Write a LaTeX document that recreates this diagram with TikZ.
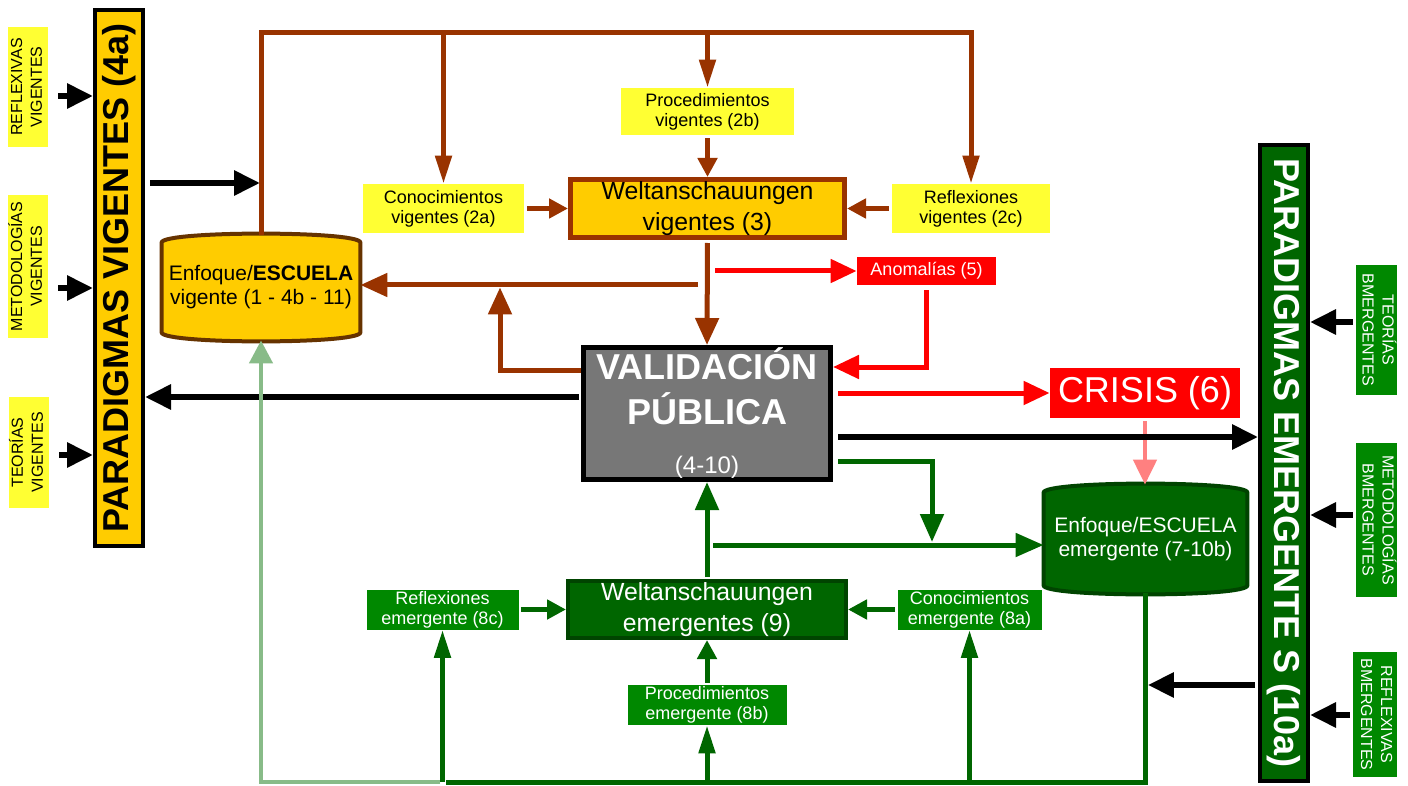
\documentclass[tikz,border=0pt]{standalone}
\usepackage{fontspec}
\setmainfont{Liberation Sans}
\usetikzlibrary{arrows.meta,positioning,calc,backgrounds}

\definecolor{gold}{HTML}{FFCC00}
\definecolor{lemon}{HTML}{FFFF33}
\definecolor{rust}{HTML}{993300}
\definecolor{bark}{HTML}{663300}
\definecolor{forest}{HTML}{006600}
\definecolor{pine}{HTML}{004400}
\definecolor{leaf}{HTML}{008800}
\definecolor{sage}{HTML}{88BB88}
\definecolor{salmon}{HTML}{FF8080}
\definecolor{slate}{HTML}{777777}

\newcommand{\sidetext}[3]{\rotatebox{#1}{\begin{tabular}{@{}c@{}}#2\\#3\end{tabular}}}
\newcommand{\cylbody}[3]{%
  \path[fill=#2, draw=#3, line width=2pt, rounded corners=2pt]
    ($(#1.north west)+(0,12)$) .. controls ($(#1.north west)+(0,-4)$) and ($(#1.north east)+(0,-4)$) .. ($(#1.north east)+(0,12)$)
    -- ($(#1.south east)+(0,-12)$) .. controls ($(#1.south east)+(0,4)$) and ($(#1.south west)+(0,4)$) .. ($(#1.south west)+(0,-12)$) -- cycle;}

\begin{document}
\begin{tikzpicture}[x=0.5pt, y=-0.5pt, node distance=132pt,
  paradbar/.style={draw=black, line width=2pt, inner sep=0pt, minimum width=24pt, font=\bfseries\fontsize{18}{20}\selectfont},
  sidelbl/.style={inner sep=0pt, font=\fontsize{8}{10}\selectfont},
  vigbox/.style={fill=lemon, inner sep=0pt, align=center, font=\fontsize{9}{10}\selectfont},
  emgbox/.style={fill=leaf, text=white, inner sep=0pt, align=center, minimum height=20pt, font=\fontsize{9}{10}\selectfont},
  weltbox/.style={line width=2.5pt, inner sep=0pt, align=center, font=\fontsize{12.4}{15.5}\selectfont},
  cyltext/.style={inner sep=0pt, align=center, font=\fontsize{10.5}{12}\selectfont},
  rustarr/.style={draw=rust, line width=2.5pt, -{Triangle[length=13.5pt,width=11.5pt]}},
  redarr/.style={draw=red, line width=2.5pt, -{Triangle[length=13pt,width=11.5pt]}},
  pinkarr/.style={draw=salmon, line width=2.25pt, -{Triangle[length=12.5pt,width=11.5pt]}},
  blkarr/.style={draw=black, line width=3pt, -{Triangle[length=13pt,width=12pt]}},
  grnarr/.style={draw=forest, line width=2.5pt, -{Triangle[length=14pt,width=11.5pt]}},
  grnline/.style={draw=forest, line width=2.5pt},
  sagearr/.style={draw=sage, line width=2.25pt, -{Triangle[length=11.5pt,width=11.5pt]}},
  narrowtip/.style={-{Triangle[length=14pt,width=8pt]}},
  shorttip/.style={-{Triangle[length=9.5pt,width=9.5pt]}}]
\useasboundingbox (0,0) rectangle (1408,786);

\node (parv) [paradbar, fill=gold, minimum height=268pt] at (119,278) {\rotatebox{90}{PARADIGMAS VIGENTES (4a)}};
\node (pare) [paradbar, fill=forest, text=white, minimum height=318pt] at (1284,463) {\rotatebox{-90}{PARADIGMAS EMERGENTE S (10a)}};

\node (reflv) [sidelbl, fill=lemon, minimum width=20pt, minimum height=60pt] at (28,87) {\sidetext{90}{REFLEXIVAS}{VIGENTES}};
\node (metov) [sidelbl, fill=lemon, minimum width=20pt, minimum height=71.5pt] at (28,266.5) {\sidetext{90}{METODOLOGÍAS}{VIGENTES}};
\node (teov) [sidelbl, fill=lemon, minimum width=19pt, minimum height=55.5pt] at (29,452.5) {\sidetext{90}{TEORÍAS}{VIGENTES}};
\node (teoe) [sidelbl, fill=leaf, text=white, minimum width=20.5pt, minimum height=65pt] at (1376.5,330) {\sidetext{-90}{TEORÍAS}{BMERGENTES}};
\node (metoe) [sidelbl, fill=leaf, text=white, minimum width=20.5pt, minimum height=77pt] at (1376.5,520) {\sidetext{-90}{METODOLOGÍAS}{BMERGENTES}};
\node (refle) [sidelbl, fill=leaf, text=white, minimum width=22pt, minimum height=62.5pt] at (1375,714.5) {\sidetext{-90}{REFLEXIVAS}{BMERGENTES}};

\node (weltv) [weltbox, draw=rust, fill=gold, minimum width=137pt, minimum height=29pt] at (707.5,208.5) {Weltanschauungen\\vigentes (3)};
\node (procv) [vigbox, above of=weltv, node distance=48.5pt, minimum width=86.5pt, minimum height=23.5pt] {Procedimientos\\vigentes (2b)};
\node (conv) [vigbox, left of=weltv, minimum width=80.5pt, minimum height=24.5pt] {Conocimientos\\vigentes (2a)};
\node (reflexv) [vigbox, right of=weltv, node distance=131.75pt, minimum width=79pt, minimum height=24.5pt] {Reflexiones\\vigentes (2c)};

\node (escv) [cyltext, minimum width=99pt, minimum height=52.5pt] at (261,287.5) {Enfoque/\textbf{ESCUELA}\\vigente (1 - 4b - 11)};
\node (anom) [fill=red, text=white, inner sep=0pt, minimum width=69.5pt, minimum height=14pt, font=\fontsize{9}{10}\selectfont] at (926.5,271) {Anomalías (5)};
\node (valid) [draw=black, line width=2.5pt, fill=slate, text=white, align=center, inner sep=0pt, minimum width=123.5pt, minimum height=66pt, font=\bfseries\fontsize{18}{22.5}\selectfont] at (707,413.5) {VALIDACIÓN\\PÚBLICA\\[2pt]{\mdseries\fontsize{12}{14}\selectfont (4-10)}};
\node (crisis) [fill=red, text=white, inner sep=0pt, minimum width=95pt, minimum height=25pt, font=\fontsize{18}{20}\selectfont] at (1145,393) {CRISIS (6)};
\node (esce) [cyltext, text=white, minimum width=101.5pt, minimum height=54pt] at (1145.5,539) {Enfoque/ESCUELA\\emergente (7-10b)};

\node (welte) [weltbox, draw=pine, fill=forest, text=white, line width=2pt, minimum width=139pt, minimum height=28.5pt, below of=valid, node distance=98pt] {Weltanschauungen\\emergentes (9)};
\node (refle8c) [emgbox, left of=welte, node distance=132.25pt, minimum width=76pt] {Reflexiones\\emergente (8c)};
\node (cone8a) [emgbox, right of=welte, node distance=131.25pt, minimum width=72pt] {Conocimientos\\emergente (8a)};
\node (proce8b) [emgbox, below of=welte, node distance=47.75pt, minimum width=79.5pt] {Procedimientos\\emergente (8b)};

\begin{scope}[on background layer]
\fill[white] (0,0) rectangle (1408,786);
\cylbody{escv}{gold}{bark}
\cylbody{esce}{forest}{pine}
\end{scope}

\draw[blkarr, shorten <=5pt] (reflv.east |- 0,96) -- (parv.west |- 0,96);
\draw[blkarr, shorten <=5pt] (metov.east |- 0,288) -- (parv.west |- 0,288);
\draw[blkarr, shorten <=5pt] (teov.east |- 0,455) -- (parv.west |- 0,455);
\draw[blkarr, shorten <=1.5pt] (teoe.west |- 0,322) -- (pare.east |- 0,322);
\draw[blkarr, shorten <=1.5pt] (metoe.west |- 0,515) -- (pare.east |- 0,515);
\draw[blkarr, shorten <=1.5pt] (refle.west |- 0,715) -- (pare.east |- 0,715);

\coordinate (bus) at (262,33);
\draw[rustarr, narrowtip] (escv.north) |- (reflexv.north |- bus) -- (reflexv.north);
\draw[rustarr, narrowtip] (conv.north |- bus) -- (conv.north);
\draw[rustarr, narrowtip] (procv.north |- bus) -- (procv.north);
\draw[rustarr, shorttip, shorten <=1.5pt] (procv.south) -- (procv.south |- weltv.north);
\draw[rustarr, shorttip, shorten <=1.5pt] (conv.east) -- (conv.east -| weltv.west);
\draw[rustarr, shorttip, shorten <=1.5pt] (reflexv.west) -- (reflexv.west -| weltv.east);
\draw[rustarr, shorten <=1.5pt] (weltv.south) -- (valid.north);
\coordinate (rustjoin) at (698,285);
\draw[rustarr] (rustjoin) -- (rustjoin -| escv.east);
\draw[rustarr, shorten >=1.2pt] (valid.west |- 0,370) -| (500,0 |- rustjoin);

\draw[redarr] (715,0 |- anom.west) -- (anom.west);
\draw[redarr, shorten <=2.5pt] (anom.south) |- (valid.east |- 0,367);
\draw[redarr, shorten <=2.5pt] (valid.east |- crisis.west) -- (crisis.west);
\draw[pinkarr, shorten <=1.5pt] (crisis.south) -- (crisis.south |- esce.north);

\draw[blkarr, shorten <=2.5pt, shorten >=1pt] (parv.east |- 0,183) -- (bus |- 0,183);
\draw[blkarr, shorten <=1pt] (valid.west |- 0,397) -- (parv.east |- 0,397);
\draw[blkarr, shorten <=2.5pt] (valid.east |- 0,437) -- (pare.west |- 0,437);
\draw[blkarr, shorten <=1.5pt, shorten >=1.2pt] (pare.west |- 0,685) -- (esce.south |- 0,685);

\coordinate (grnsplit) at (713,545);
\draw[grnarr, shorten <=2.5pt, shorten >=1.5pt] (valid.east |- 0,461) -| (932,0 |- grnsplit);
\draw[grnarr] (grnsplit) -- (grnsplit -| esce.west);
\draw[grnarr, shorten <=1pt] (welte.north) -- (welte.north |- valid.south);
\draw[grnarr, shorttip, shorten <=1pt] (refle8c.east) -- (refle8c.east -| welte.west);
\draw[grnarr, shorttip, shorten <=1pt] (cone8a.west) -- (cone8a.west -| welte.east);
\draw[grnarr, shorttip, shorten <=1pt] (proce8b.north) -- (proce8b.north |- welte.south);
\coordinate (gbus) at (446,782);
\draw[grnline] (esce.south) |- (gbus);
\draw[grnarr, narrowtip] (refle8c.south |- gbus) -- (refle8c.south);
\draw[grnarr, narrowtip] (proce8b.south |- gbus) -- (proce8b.south);
\draw[grnarr, narrowtip] (cone8a.south |- gbus) -- (cone8a.south);
\draw[sagearr] ([xshift=-3pt]gbus) -| (escv.south);
\end{tikzpicture}
\end{document}
